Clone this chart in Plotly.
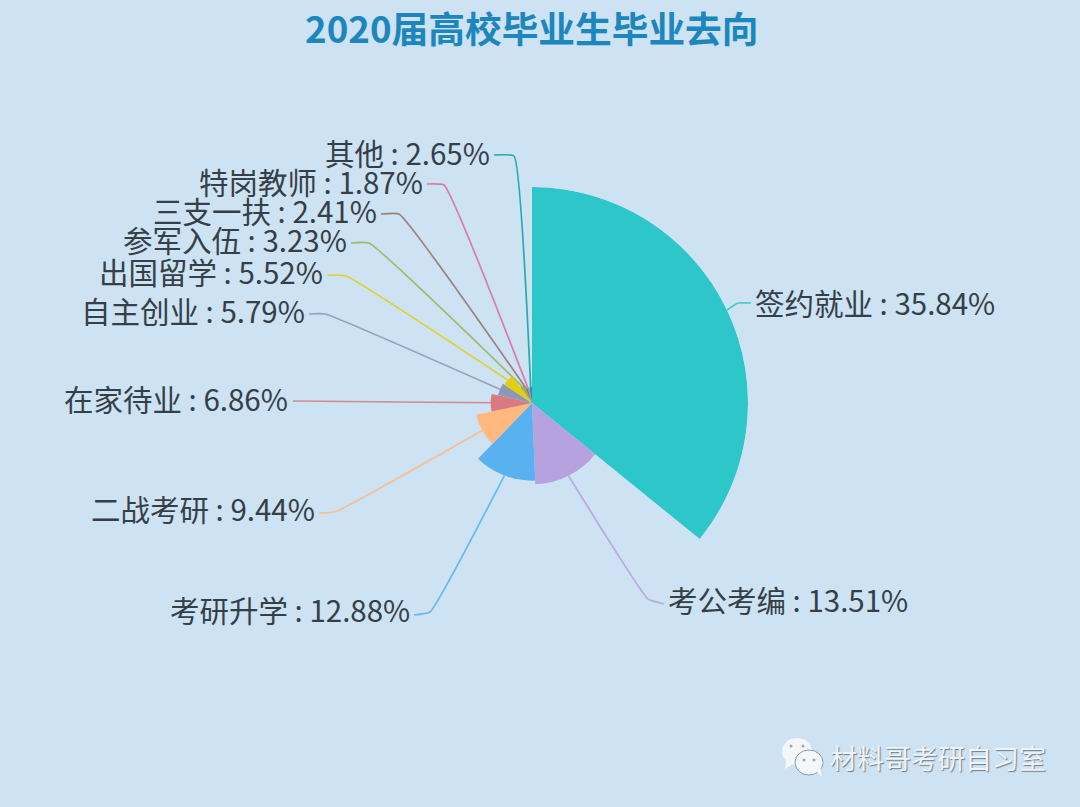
import math
import plotly.graph_objects as go

TITLE = "2020届高校毕业生毕业去向"
WATERMARK = "材料哥考研自习室"
categories = ["签约就业", "考公考编", "考研升学", "二战考研", "在家待业", "自主创业",
              "出国留学", "参军入伍", "三支一扶", "特岗教师", "其他"]
values = [35.84, 13.51, 12.88, 9.44, 6.86, 5.79, 5.52, 3.23, 2.41, 1.87, 2.65]
colors = ["#2ec7c9", "#b6a2de", "#5ab1ef", "#ffb980", "#d87a80", "#8d98b3",
          "#e5cf0d", "#97b552", "#95706d", "#dc69aa", "#07a2a4"]

W, H = 1080, 807
CX, CY, RMAX = 532, 403, 216
BG = "#cde2f3"

# label layout: anchor x, centre y, text side, leader knee x/y and end x/y
label_x = [753, 666, 412, 317, 290, 307, 325, 349, 379, 425, 492]
label_y = [302, 599, 609, 508, 398, 310, 271, 239, 210, 181, 152]
knee_x = [738, 648, 430, 335, 400, 325, 346, 369, 399, 444, 514]
knee_y = [303, 599, 612, 512, 402, 314, 276, 243, 214, 185, 156]
end_x = [751, 664, 414, 319, 293, 309, 327, 351, 381, 427, 494]
end_y = [303, 604, 615, 513, 401, 314, 275, 243, 214, 184, 155]

total = sum(values)
widths = [v / total * 360 for v in values]
thetas = []
acc = 0.0
for w_ in widths:
    thetas.append(acc + w_ / 2)
    acc += w_

fig = go.Figure()

# leader lines, starting from each slice's outer arc
for i, cat in enumerate(categories):
    rad = math.radians(thetas[i])
    r_px = values[i] / max(values) * RMAX
    sx = CX + r_px * math.sin(rad)
    sy = CY - r_px * math.cos(rad)
    fig.add_trace(go.Scatter(
        x=[sx, knee_x[i], end_x[i]], y=[sy, knee_y[i], end_y[i]],
        mode="lines", line=dict(color=colors[i], width=1.7, shape="spline", smoothing=0.35),
        opacity=0.85,
        hoverinfo="skip", showlegend=False, xaxis="x", yaxis="y",
    ))

fig.add_trace(go.Barpolar(
    r=values, theta=thetas, width=widths, marker=dict(color=colors, line=dict(width=0)),
    text=categories, showlegend=False, hovertemplate="%{text}: %{r}%<extra></extra>",
))

annotations = []
for i, cat in enumerate(categories):
    annotations.append(dict(
        x=label_x[i], y=label_y[i], xref="x", yref="y",
        text=f"{cat} : {values[i]:.2f}%", showarrow=False,
        xanchor="left" if i < 2 else "right", yanchor="middle",
        font=dict(size=29.5, color="#353f47", family="Noto Sans CJK SC"),
    ))
annotations.append(dict(
    x=531.5, y=27, xref="x", yref="y", text=f"<b>{TITLE}</b>", showarrow=False,
    xanchor="center", yanchor="middle",
    font=dict(size=36.7, color="#1c86bd", family="Noto Sans CJK SC"),
))
annotations.append(dict(
    x=828, y=757, xref="x", yref="y", text=WATERMARK, showarrow=False,
    xanchor="left", yanchor="middle",
    font=dict(size=27, color="#eef4f9", family="Noto Sans CJK SC",
              shadow="1px 1px 1px #6f7f8c"),
))

bubble = "#f4f7fa"
shapes = [
    dict(type="circle", xref="x", yref="y", x0=782, x1=812, y0=738, y1=765,
         fillcolor=bubble, line=dict(width=0)),
    dict(type="path", xref="x", yref="y", path="M 786 758 L 785 769 L 796 762 Z",
         fillcolor=bubble, line=dict(width=0)),
    dict(type="circle", xref="x", yref="y", x0=795, x1=823, y0=750, y1=775,
         fillcolor=bubble, line=dict(color="#8a9aa8", width=1)),
    dict(type="path", xref="x", yref="y", path="M 815 770 L 822 777 L 820 766 Z",
         fillcolor=bubble, line=dict(width=0)),
]
for cx_, cy_ in [(791, 746), (803, 746), (804, 760), (814, 760)]:
    shapes.append(dict(type="circle", xref="x", yref="y", x0=cx_ - 1.5, x1=cx_ + 1.5,
                       y0=cy_ - 1.5, y1=cy_ + 1.5, fillcolor="#9aa7b2", line=dict(width=0)))

fig.update_layout(
    width=W, height=H, margin=dict(l=0, r=0, t=0, b=0),
    paper_bgcolor=BG, plot_bgcolor="rgba(0,0,0,0)", showlegend=False,
    xaxis=dict(range=[0, W], domain=[0, 1], visible=False, fixedrange=True),
    yaxis=dict(range=[H, 0], domain=[0, 1], visible=False, fixedrange=True),
    polar=dict(
        domain=dict(x=[(CX - RMAX) / W, (CX + RMAX) / W],
                    y=[1 - (CY + RMAX) / H, 1 - (CY - RMAX) / H]),
        bgcolor="rgba(0,0,0,0)",
        radialaxis=dict(visible=False, range=[0, max(values)]),
        angularaxis=dict(visible=False, direction="clockwise", rotation=90),
        barmode="overlay",
    ),
    annotations=annotations, shapes=shapes,
)

fig.write_html("out.html", config=dict(displayModeBar=False),
               post_script="document.body.style.margin='0';document.documentElement.style.overflow='hidden';")
